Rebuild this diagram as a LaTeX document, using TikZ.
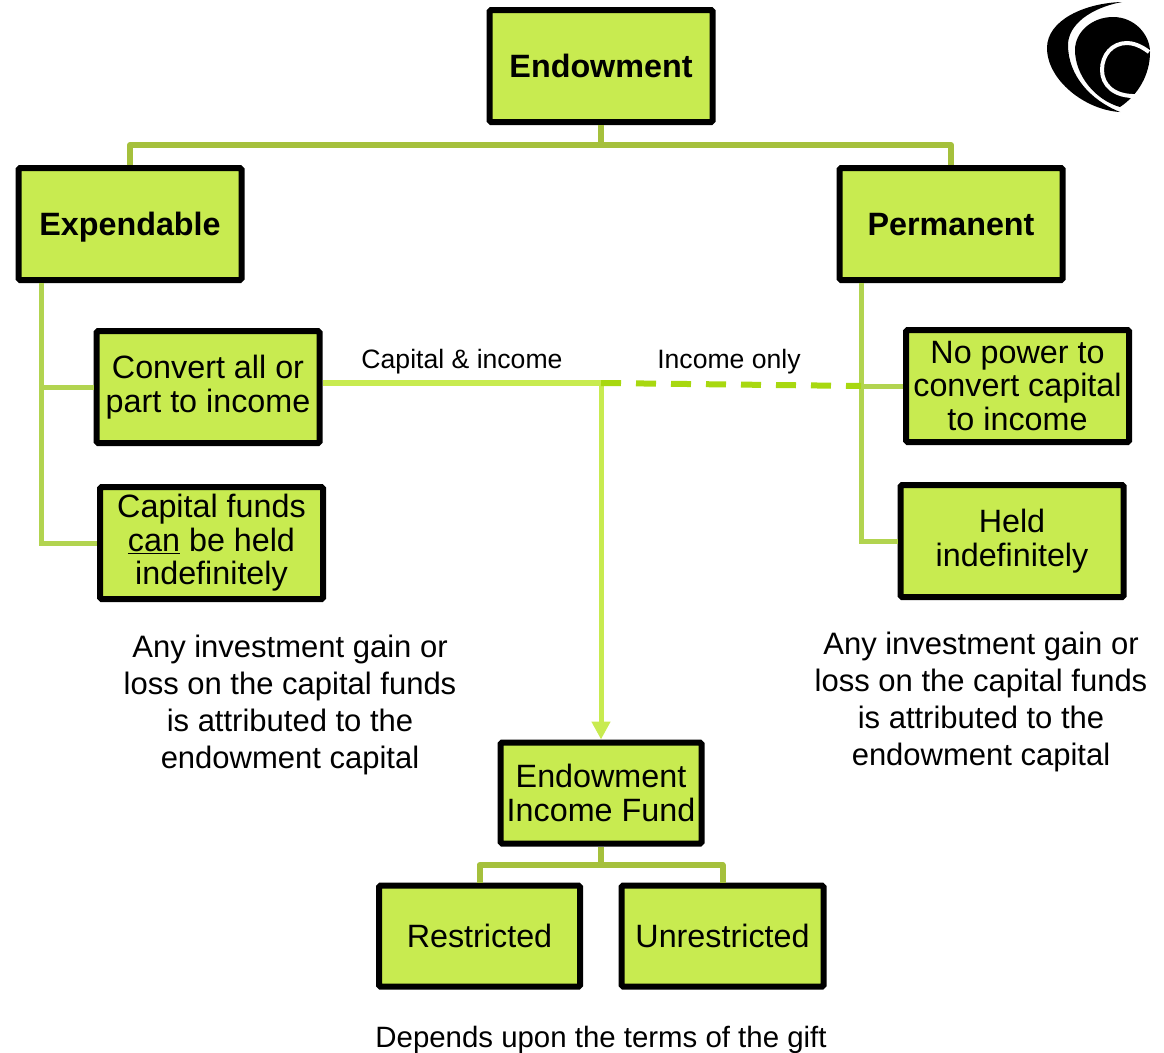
\documentclass[tikz,border=0pt]{standalone}
\usepackage{fontspec}
\setmainfont{Liberation Sans}
\usetikzlibrary{arrows.meta}

\definecolor{boxgreen}{HTML}{C8EB50}
\definecolor{treegreen}{HTML}{A5C03C}
\definecolor{sidegreen}{HTML}{B2D450}
\definecolor{fundgreen}{HTML}{C8EB50}
\definecolor{dashgreen}{HTML}{A8D810}

\tikzset{
    boxnode/.style={draw=black, fill=boxgreen, line width=6, rounded corners=1.5,
        minimum width=223, minimum height=112, inner sep=0, align=center,
        font=\fontsize{32.3}{33.5}\selectfont},
    headnode/.style={boxnode, text height=26, text depth=4, font=\fontsize{32.3}{33.5}\selectfont\bfseries},
    notenode/.style={align=center, inner sep=0, font=\fontsize{31}{37}\selectfont},
    smallnode/.style={inner sep=0, font=\fontsize{26.6}{30}\selectfont},
    treeline/.style={treegreen, line width=6, line join=round},
    sideline/.style={sidegreen, line width=5},
}

\begin{document}
\begin{tikzpicture}[x=1pt, y=-1pt, >=Stealth]
    \useasboundingbox (0,0) rectangle (1164,1052);

    % boxes
    \node[headnode] (endowment) at (601,66) {Endowment};
    \node[headnode] (expendable) at (130,224) {Expendable};
    \node[headnode] (permanent) at (951,224) {Permanent};
    \node[boxnode] (convert) at (208,387) {Convert all or\\part to income};
    \node[boxnode] (capitalfunds) at (211.5,543) {Capital funds\\\underline{can} be held\\indefinitely};
    \node[boxnode] (nopower) at (1017.5,386) {No power to\\convert capital\\to income};
    \node[boxnode] (held) at (1012,541) {Held\\indefinitely};
    \node[boxnode, minimum width=201, minimum height=101] (incomefund) at (601,793) {Endowment\\Income Fund};
    \node[boxnode, minimum width=201, minimum height=101] (restricted) at (479.5,936) {Restricted};
    \node[boxnode, minimum width=202, minimum height=101] (unrestricted) at (722.5,936) {Unrestricted};

    % texts
    \node[smallnode] (capitalincome) at (462,362) {Capital \& income};
    \node[smallnode] (incomeonly) at (729,362) {Income only};
    \node[notenode] (noteleft) at (290,705) {Any investment gain or\\loss on the capital funds\\is attributed to the\\endowment capital};
    \node[notenode] (noteright) at (981,702) {Any investment gain or\\loss on the capital funds\\is attributed to the\\endowment capital};
    \node[notenode, font=\fontsize{29.4}{37}\selectfont] (notegift) at (601,1040) {Depends upon the terms of the gift};

    \coordinate (topbus) at (601,145);
    \coordinate (fundbus) at (601,865);
    \coordinate (expbus) at (41,387);
    \coordinate (permbus) at (861,386);
    \coordinate (junction) at (601,383);

    % tree lines
    \draw[treeline] (endowment.south) -- (topbus);
    \draw[treeline] (expendable.north) |- (topbus) -| (permanent.north);
    \draw[treeline] (incomefund.south) -- (fundbus);
    \draw[treeline] (restricted.north) |- (fundbus) -| (unrestricted.north);

    % side lines
    \draw[sideline] (expendable.south -| expbus) |- (capitalfunds.west);
    \draw[sideline] (expbus) -- (convert.west);
    \draw[sideline] (permanent.south -| permbus) |- (held.west);
    \draw[sideline] (permbus) -- (nopower.west);

    % capital and income lines
    \draw[fundgreen, line width=6] (junction -| convert.east) -- (junction);
    \draw[->, fundgreen, line width=5, >={Stealth[length=18pt, width=18pt, inset=0pt]}] (junction) -- (incomefund.north);
    \draw[dashgreen, line width=6, dash pattern=on 20 off 15] (junction) -- (permbus);

    % logo
    \fill[black] (1122,2) .. controls (1085,3) and (1047,20) .. (1047,48)
        .. controls (1047,80) and (1085,110) .. (1120,112)
        .. controls (1090,100) and (1068,75) .. (1068,45)
        .. controls (1068,25) and (1090,8) .. (1122,2) -- cycle;
    \fill[black] (1113,17) .. controls (1135,17) and (1150,35) .. (1150,52)
        .. controls (1150,75) and (1138,95) .. (1120,107)
        .. controls (1095,100) and (1075,75) .. (1075,50)
        .. controls (1075,32) and (1092,17) .. (1113,17) -- cycle;
    \draw[white, line width=4] (1149,52) .. controls (1140,45) and (1132,43) .. (1127,43)
        .. controls (1112,43) and (1102,55) .. (1102,70)
        .. controls (1102,85) and (1114,97) .. (1137,96);
\end{tikzpicture}
\end{document}
